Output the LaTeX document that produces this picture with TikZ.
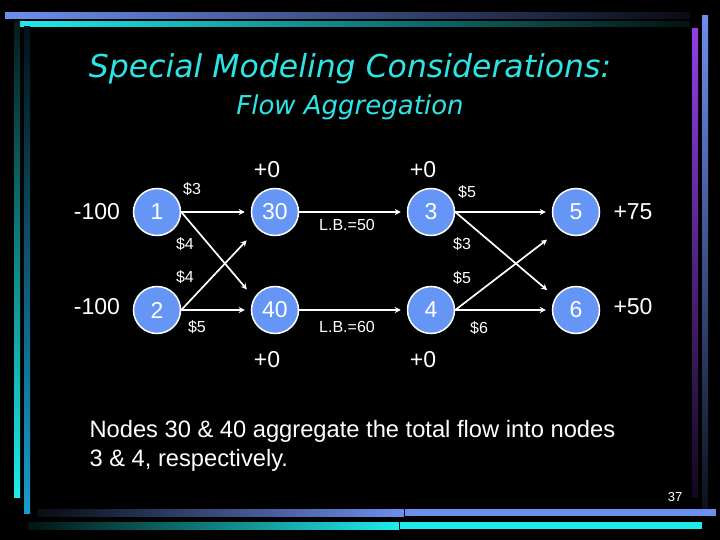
\documentclass[tikz,border=0pt]{standalone}
\usepackage{fontspec}
\setmainfont{Liberation Sans}
\newfontfamily\titlefont{DejaVu Sans}
\usetikzlibrary{arrows.meta}
\definecolor{titlecyan}{RGB}{45,228,228}
\definecolor{nodeblue}{RGB}{102,150,245}
\definecolor{barblue}{RGB}{108,142,238}
\definecolor{barcyan}{RGB}{30,236,236}
\definecolor{barteal}{RGB}{25,155,205}
\definecolor{barpurple}{RGB}{145,62,230}
\tikzset{
  netnode/.style={circle,draw=white,line width=1.5pt,fill=nodeblue,minimum size=47pt,
    inner sep=0pt,text=white,font=\fontsize{23}{23}\selectfont},
  supply/.style={text=white,font=\fontsize{23}{23}\selectfont},
  cost/.style={text=white,font=\fontsize{16}{16}\selectfont},
  flow/.style={draw=white,line width=1.7pt,-{Stealth[length=6pt,width=6pt]},shorten >=6pt},
}
\begin{document}
\begin{tikzpicture}[x=1pt,y=-1pt]
  \fill[black] (0,0) rectangle (720,540);
  \useasboundingbox (0,0) rectangle (720,540);
  % frame bars
  \shade[left color=barblue,right color=barblue!8!black] (5,13) rectangle (690,19);
  \shade[left color=barcyan,right color=barcyan!8!black] (20,22) rectangle (690,27);
  \shade[top color=barcyan!12!black,bottom color=barcyan] (14,22) rectangle (20,497);
  \shade[top color=barteal!12!black,bottom color=barteal] (24,27) rectangle (30,513);
  \shade[top color=barblue,bottom color=barblue!12!black] (702,16) rectangle (708,508);
  \shade[top color=barpurple,bottom color=barpurple!12!black] (692,29) rectangle (698,497);
  \shade[left color=barblue!8!black,right color=barblue] (37,509) rectangle (404,516);
  \fill[barblue] (404,509) rectangle (716,516);
  \shade[left color=barcyan!8!black,right color=barcyan] (28,522) rectangle (399,529);
  \fill[barcyan] (399,522) rectangle (702,529);
  \draw[black,line width=0.6pt] (404,509) -- (404,516) (399,522) -- (399,529);
  % title
  \node[anchor=base,text=titlecyan,font=\titlefont\itshape\fontsize{31.5}{32}\selectfont] (title) at (350,78) {Special Modeling Considerations:};
  \node[anchor=base,text=titlecyan,font=\titlefont\itshape\fontsize{26}{26}\selectfont] (subtitle) at (350,115) {Flow Aggregation};
  % network
  \node[netnode] (n1) at (157,212) {1};
  \node[netnode] (n2) at (157,310) {2};
  \node[netnode] (n30) at (275,212) {30};
  \node[netnode] (n40) at (275,310) {40};
  \node[netnode] (n3) at (431,212) {3};
  \node[netnode] (n4) at (431,310) {4};
  \node[netnode] (n5) at (576,212) {5};
  \node[netnode] (n6) at (576,310) {6};
  \draw[flow] (n1.east) -- (n30.west);
  \draw[flow] (n1.east) -- ([yshift=16pt]n40.west);
  \draw[flow] (n2.east) -- ([yshift=-24pt]n30.west);
  \draw[flow] (n2.east) -- (n40.west);
  \draw[flow] (n30.east) -- (n3.west);
  \draw[flow] (n40.east) -- (n4.west);
  \draw[flow] (n3.east) -- (n5.west);
  \draw[flow] (n3.east) -- ([yshift=16pt]n6.west);
  \draw[flow] (n4.east) -- ([yshift=-24pt]n5.west);
  \draw[flow] (n4.east) -- (n6.west);
  % supplies and costs
  \node[supply] (s1) at (97,212) {-100};
  \node[supply] (s2) at (97,307) {-100};
  \node[supply] (s30) at (267,170) {+0};
  \node[supply] (s40) at (267,360) {+0};
  \node[supply] (s3) at (423,170) {+0};
  \node[supply] (s4) at (423,360) {+0};
  \node[supply] (s5) at (633,212) {+75};
  \node[supply] (s6) at (633,307) {+50};
  \node[cost] (c130) at (192,189) {\$3};
  \node[cost] (c140) at (185,244) {\$4};
  \node[cost] (c230) at (185,277) {\$4};
  \node[cost] (c240) at (197,327) {\$5};
  \node[cost] (lb30) at (347,225) {L.B.=50};
  \node[cost] (lb40) at (347,327) {L.B.=60};
  \node[cost] (c35) at (467,192) {\$5};
  \node[cost] (c36) at (462,244) {\$3};
  \node[cost] (c45) at (462,278) {\$5};
  \node[cost] (c46) at (479,328) {\$6};
  % note
  \node[anchor=base west,text=white,font=\fontsize{23.7}{24}\selectfont] (note1) at (86,437) {Nodes 30 \& 40 aggregate the total flow into nodes};
  \node[anchor=base west,text=white,font=\fontsize{23.7}{24}\selectfont] (note2) at (86,466) {3 \& 4, respectively.};
  \node[text=white,font=\fontsize{13}{13}\selectfont] (page) at (675,497) {37};
\end{tikzpicture}
\end{document}
